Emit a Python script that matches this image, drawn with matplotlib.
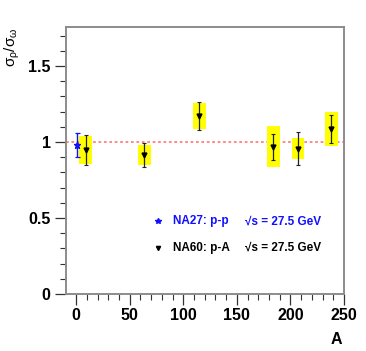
import matplotlib
matplotlib.use("Agg")
import matplotlib.pyplot as plt
from matplotlib.patches import Rectangle
from matplotlib.ticker import MultipleLocator

plt.rcParams['font.family'] = ['Liberation Sans', 'DejaVu Sans']
plt.rcParams['mathtext.fontset'] = 'custom'
plt.rcParams['mathtext.rm'] = 'Liberation Sans'
plt.rcParams['mathtext.it'] = 'Liberation Sans'
plt.rcParams['mathtext.bf'] = 'Liberation Sans:bold'

# NA27 p-p
pp_A = [1]
pp_ratio = [0.98]
pp_err = [0.08]

# NA60 p-A
pa_A = [9, 63.5, 115, 184, 207, 238]
pa_ratio = [0.947, 0.914, 1.171, 0.970, 0.956, 1.086]
pa_stat = [0.100, 0.080, 0.093, 0.086, 0.110, 0.095]
pa_syst = [0.090, 0.067, 0.087, 0.135, 0.068, 0.110]
box_halfwidth = 6

xticks = [0, 50, 100, 150, 200, 250]
yticks = [0, 0.5, 1, 1.5]
ytick_labels = ['0', '0.5', '1', '1.5']

fig = plt.figure(figsize=(3.66, 3.51), dpi=100)
ax = fig.add_axes([66/366, 1-294/351, (344-66)/366, (294-27)/351])
ax.set_xlim(-9.5, 250)
ax.set_ylim(0, 1.757)

frame_col = '#8c8c8c'
for s in ax.spines.values():
    s.set_color(frame_col)
    s.set_linewidth(1.4)

ax.axhline(1.0, color='#ff8080', ls=(0, (1.5, 1.5)), lw=1.3, zorder=1)

for a, r, sy in zip(pa_A, pa_ratio, pa_syst):
    ax.add_patch(Rectangle((a - box_halfwidth, r - sy), 2*box_halfwidth, 2*sy,
                           facecolor='#ffff00', edgecolor='none', zorder=2))

ax.errorbar(pa_A, pa_ratio, yerr=pa_stat, fmt='v', color='black', ms=3.5,
            elinewidth=0.9, capsize=1.5, capthick=0.8, ecolor='#222222', zorder=4)
ax.errorbar(pp_A, pp_ratio, yerr=pp_err, fmt='*', color='#1010ff', ms=5,
            elinewidth=1.0, capsize=1.8, capthick=0.9, zorder=5)

ax.set_xticks(xticks)
ax.set_xticklabels([str(t) for t in xticks])
ax.set_yticks(yticks)
ax.set_yticklabels(ytick_labels)
ax.xaxis.set_minor_locator(MultipleLocator(10))
ax.yaxis.set_minor_locator(MultipleLocator(0.1))
ax.tick_params(which='major', direction='out', length=8, width=0.9, color='#333333',
               labelsize=11.5, pad=3)
ax.tick_params(which='minor', direction='out', length=4, width=0.8, color='#333333')
for lab in ax.get_xticklabels() + ax.get_yticklabels():
    lab.set_fontweight('bold')
ax.tick_params(axis='x', pad=2)

# legend texts
ax.plot([76], [0.478], marker='*', color='#1010ff', ms=4, ls='none')
ax.text(90, 0.478, 'NA27: p-p', color='#1010ff', fontsize=8.5, fontweight='bold',
        va='center', ha='left')
ax.text(158, 0.478, '\u221as = 27.5 GeV', color='#1010ff', fontsize=8.5,
        fontweight='bold', va='center', ha='left')
ax.plot([76], [0.303], marker='v', color='black', ms=3, ls='none')
ax.text(90, 0.303, 'NA60: p-A', color='black', fontsize=8.5, fontweight='bold',
        va='center', ha='left')
ax.text(158, 0.303, '\u221as = 27.5 GeV', color='black', fontsize=8.5,
        fontweight='bold', va='center', ha='left')

fig.text(12/366, 1-47/351, r'$\sigma_{\rho}/\sigma_{\omega}$', rotation=90,
         fontsize=11, ha='center', va='center')
fig.text(336/366, 1-339/351, 'A', fontsize=11.5, fontweight='bold', ha='center', va='center')

fig.savefig('out.png', dpi=100)
